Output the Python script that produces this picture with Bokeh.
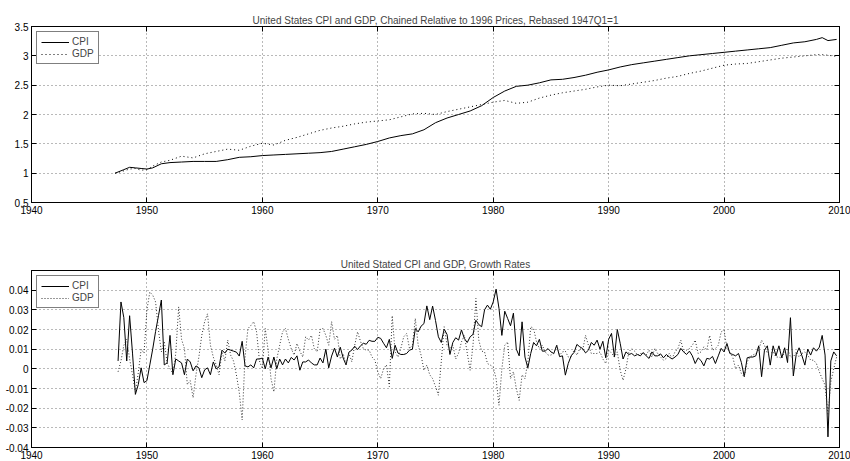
import numpy as np
from bokeh.plotting import figure
from bokeh.layouts import column
from bokeh.models import (FixedTicker, LinearAxis, Legend, LegendItem, Range1d,
                          CustomJSTickFormatter)
from bokeh.embed import file_html
from bokeh.resources import INLINE

FONT = "Liberation Sans"

# ---- levels (rebased, 1947Q1 = 1) ----
level_dates = [1947.25, 1948.0, 1948.5, 1949.0, 1949.5, 1950.0, 1950.5, 1951.25,
               1952, 1953, 1954, 1955, 1956, 1957, 1958, 1959,
               1960, 1961, 1962, 1963, 1964, 1965, 1966, 1967, 1968, 1969,
               1970, 1971, 1972, 1973, 1974, 1975, 1976, 1977, 1978, 1979,
               1980, 1981, 1982, 1983, 1984, 1985, 1986, 1987, 1988, 1989,
               1990, 1991, 1992, 1993, 1994, 1995, 1996, 1997, 1998, 1999,
               2000, 2001, 2002, 2003, 2004, 2005, 2006, 2007, 2008,
               2008.5, 2009.0, 2009.75]
cpi_level = [1.00, 1.06, 1.10, 1.09, 1.08, 1.07, 1.09, 1.16,
             1.18, 1.19, 1.20, 1.20, 1.20, 1.23, 1.27, 1.28,
             1.30, 1.31, 1.32, 1.33, 1.34, 1.35, 1.37, 1.41, 1.45, 1.49,
             1.54, 1.60, 1.64, 1.67, 1.74, 1.86, 1.94, 2.00, 2.06, 2.15,
             2.29, 2.40, 2.48, 2.50, 2.54, 2.59, 2.60, 2.63, 2.67, 2.72,
             2.76, 2.81, 2.85, 2.88, 2.91, 2.94, 2.97, 3.00, 3.02, 3.04,
             3.06, 3.08, 3.10, 3.12, 3.14, 3.18, 3.22, 3.24, 3.28,
             3.31, 3.26, 3.28]
gdp_level = [1.00, 1.04, 1.07, 1.08, 1.05, 1.06, 1.12, 1.19,
             1.22, 1.29, 1.26, 1.33, 1.37, 1.41, 1.39, 1.46,
             1.51, 1.48, 1.56, 1.61, 1.67, 1.73, 1.77, 1.80, 1.84, 1.87,
             1.89, 1.91, 1.96, 2.01, 2.02, 2.00, 2.05, 2.09, 2.13, 2.17,
             2.21, 2.24, 2.19, 2.21, 2.28, 2.33, 2.37, 2.40, 2.43, 2.47,
             2.50, 2.49, 2.52, 2.55, 2.58, 2.62, 2.65, 2.70, 2.74, 2.79,
             2.84, 2.86, 2.87, 2.90, 2.93, 2.96, 2.98, 3.00, 3.02,
             3.02, 3.01, 2.99]

# ---- quarterly growth rates, 1947Q2 .. 2009Q3 ----
growth_start = 1947.5
cpi_g_1940s = [.004, .034, .026, .004, .027, .008, -.013, -.008, .0005, -.007]
cpi_g_1950s = [-.006, .002, .010, .019,  .027, .035, .002, .003,  .017, -.003, .005, .004,
               .003, -.003, .005, .0035,  -.001, .0015, .0005, -.0045,  -.0005, .0005, -.003, .0035,
               0, .001, .0095, .008,  .010, .0095, .009, .0085,  .0065, .014, .0015, .001,
               .002, .0005, .005, .005]
cpi_g_1960s = [.0055, 0, .006, .0005,  .006, 0, .005, .002,  .005, .003, .0058, .0045,
               .0066, -.0007, .0035, .0035,  .0045, .003, .002, .002,  .0055, .003, .010, .0005,
               .0065, .0105, .006, .011,  .0055, .002, .0085, .0095,  .0115, .0098, .0117, .013,
               .0125, .0145, .014, .014]
cpi_g_1970s = [.016, .0155, .013, .0107,  .015, .0053, .012, .008,  .0073, .0073, .0078, .0095,
               .010, .0205, .0188, .0217,  .023, .032, .025, .0319,  .0246, .0163, .0134, .0202,
               .0175, .0073, .0134, .0158,  .0146, .0198, .0154, .0134,  .0163, .0175, .0247, .0225,
               .0214, .0300, .0324, .0303]
cpi_g_1980s = [.034, .0405, .0307, .017,  .0293, .0256, .0219, .0283,  .010, .0066, .0239, .006,
               .0005, .0078, .0134, .0117,  .015, .009, .009, .0103,  .0086, .0078, .012, .0062,
               .0066, -.0032, .0027, .0066,  .0083, .0124, .0112, .0103,  .0081, .0095, .0134, .012,
               .0146, .010, .014, .0056]
cpi_g_1990s = [.015, .018, .006, .020,  .013, .005, .0086, .0073,  .0078, .0066, .0073, .0066,
               .0083, .0066, .0053, .0086,  .0066, .0066, .0076, .0056,  .0073, .006, .005, .006,
               .0073, .0104, .0086, .0073,  .009, .0066, .0027, .0056,  .0042, .0015, .0053, .005,
               .0063, .0027, .0066, .0104]
cpi_g_2000s = [.0086, .0129, .0078, .0073,  .0066, .0078, .0032, -.004,  .0056, .006, .006, .0066,
               .0117, -.004, .0095, .0117,  .0019, .0117, .0066, .0117,  .0056, .0107, .0032, .026,
               -.0036, .0073, .0107, .0066,  .0019, .010, .007, .0107,  .009, .011, .017, .007,
               -.0346, .004, .0086, .0066]

gdp_g_1940s = [-.0015, .004, .012, .015, .005, -.003, -.0117, -.002, .010, .008]
gdp_g_1950s = [.030, .039, .0375, .034,  .0197, .0086, .014, .003,  0, -.0024, .008, .0315,
               .015, .0103, -.008, -.006,  -.0147, -.003, .006, .017,  .024, .028, .012, .006,
               .002, -.003, .0086, .004,  .0146, .007, .004, -.003,  -.012, -.026, .006, .0205,
               .022, .024, .0188, .004]
gdp_g_1960s = [0, .0205, .0095, -.005,  -.0117, .005, .012, .0188,  .0205, .015, .0103, .007,
               .0129, .009, .006, .0163,  .0146, .017, .0103, .0086,  .020, .0205, .017, .012,
               .024, .015, .017, .005,  .0078, .002, .0078, .0036,  .012, .0188, .014, .0103,
               .0095, .0095, .006, .0044]
gdp_g_1970s = [-.0015, -.005, 0, .002,  -.009, .027, .0086, .006,  .0105, .0163, .018, .0103,
               .012, .0256, .012, .007,  -.0007, .0019, -.003, -.005,  -.009, -.0134, .0036, .0214,
               .012, .0103, .012, .005,  .008, .0137, .017, .008,  -.0007, .012, .0358, .0146,
               .009, .0086, .0027, .0019]
gdp_g_1980s = [.001, -.005, -.0185, 0,  .012, .0137, -.005, -.0015,  -.010, -.016, -.003, -.005,
               .0036, .0214, .0205, .0137,  .0103, .012, .0086, .007,  .007, .0078, .012, .007,
               .0086, .009, .006, .006,  .0095, .007, .0103, .0095,  .017, .012, .0078, .0078,
               .0078, .0086, .005, .0027]
gdp_g_1990s = [.0095, .008, .006, .0086,  -.0007, -.0058, 0, .0086,  .0103, .009, .007, .0078,
               .0078, .007, .0095, .006,  .0103, .0078, .006, .0044,  .0053, .0078, .0053, .0086,
               .0103, .0146, .0086, .0095,  .0103, .012, .0146, .0078,  .0086, .0112, .0095, .017,
               .0095, .0103, .012, .0188]
gdp_g_2000s = [.0197, .0103, .0086, .006,  0, .0019, -.0024, -.004,  .0036, .006, .007, .0078,
               .0095, .0146, .012, .0078,  .0078, .0086, .006, .006,  .0053, .0086, .0103, .006,
               .006, .0086, .006, .0078,  .0086, .007, .0044, .0044,  .0027, -.0015, -.005, -.0083,
               -.0236, -.0066, 0, .006]

x_ticks = [1940, 1950, 1960, 1970, 1980, 1990, 2000, 2010]
top_yticks = [0.5, 1, 1.5, 2, 2.5, 3, 3.5]
bot_yticks = [-0.04, -0.03, -0.02, -0.01, 0, 0.01, 0.02, 0.03, 0.04]

cpi_growth = (cpi_g_1940s + cpi_g_1950s + cpi_g_1960s + cpi_g_1970s
              + cpi_g_1980s + cpi_g_1990s + cpi_g_2000s)
gdp_growth = (gdp_g_1940s + gdp_g_1950s + gdp_g_1960s + gdp_g_1970s
              + gdp_g_1980s + gdp_g_1990s + gdp_g_2000s)
growth_dates = growth_start + 0.25 * np.arange(len(cpi_growth))

num_fmt = CustomJSTickFormatter(code="return String(Math.round(tick * 10000) / 10000);")


def panel(title, yr, yticks, top, bottom, fh):
    p = figure(frame_width=808, frame_height=fh,
               x_range=Range1d(1940, 2010), y_range=Range1d(*yr),
               output_backend="svg", toolbar_location=None,
               min_border_left=31, min_border_right=11,
               min_border_top=top, min_border_bottom=bottom,
               background_fill_color="white", border_fill_color="white")
    p.title.text = title
    p.title.align = "center"
    p.title.text_font = FONT
    p.title.text_font_size = "10px"
    p.title.text_font_style = "normal"
    p.title.standoff = 2
    p.outline_line_color = "black"
    p.outline_line_width = 1

    for ax in (p.xaxis[0], p.yaxis[0]):
        ax.major_tick_in = 5
        ax.major_tick_out = 0
        ax.minor_tick_in = 0
        ax.minor_tick_out = 0
        ax.axis_line_color = "black"
        ax.major_label_text_font = FONT
        ax.major_label_text_font_size = "10px"
        ax.major_label_text_color = "black"
        ax.major_label_standoff = 3
    p.xaxis.ticker = FixedTicker(ticks=x_ticks)
    p.yaxis.ticker = FixedTicker(ticks=yticks)
    p.yaxis.formatter = num_fmt

    # tick marks on the opposite sides of the box, without labels
    for loc, tk in (("right", yticks), ("above", x_ticks)):
        ax = LinearAxis(ticker=FixedTicker(ticks=tk), major_tick_in=5, major_tick_out=0,
                        minor_tick_in=0, minor_tick_out=0, major_label_text_font_size="1px",
                        major_label_text_color=None, major_label_standoff=0,
                        axis_line_color="black")
        p.add_layout(ax, loc)

    p.xgrid.ticker = FixedTicker(ticks=x_ticks)
    p.ygrid.ticker = FixedTicker(ticks=yticks)
    for g in (p.xgrid[0], p.ygrid[0]):
        g.grid_line_color = "black"
        g.grid_line_alpha = 0.55
        g.grid_line_dash = "1 3"
        g.grid_line_width = 1
    return p


def add_legend(p, r_cpi, r_gdp):
    leg = Legend(items=[LegendItem(label="CPI", renderers=[r_cpi]),
                        LegendItem(label="GDP", renderers=[r_gdp])],
                 location="top_left")
    leg.border_line_color = "black"
    leg.border_line_width = 1.5
    leg.background_fill_color = "white"
    leg.background_fill_alpha = 1
    leg.label_text_font = FONT
    leg.label_text_font_size = "10px"
    leg.glyph_width = 28
    leg.glyph_height = 10
    leg.label_height = 10
    leg.label_standoff = 3
    leg.spacing = 1
    leg.padding = 4
    leg.margin = 5
    p.add_layout(leg)


top = panel("United States CPI and GDP, Chained Relative to 1996 Prices, Rebased 1947Q1=1",
            (0.5, 3.5), top_yticks, 26, 28, 176)
r1 = top.line(level_dates, cpi_level, line_color="black", line_width=1)
r2 = top.line(level_dates, gdp_level, line_color="black", line_width=1, line_dash="1 3")
add_legend(top, r1, r2)

bot = panel("United Stated CPI and GDP, Growth Rates",
            (-0.04, 0.05), bot_yticks, 40, 12, 177)
r3 = bot.line(growth_dates, cpi_growth, line_color="black", line_width=1)
r4 = bot.line(growth_dates, gdp_growth, line_color="#333333", line_width=1, line_dash="1 2")
add_legend(bot, r3, r4)

layout = column(top, bot, spacing=0)
open("out.html", "w").write(file_html(layout, INLINE))
